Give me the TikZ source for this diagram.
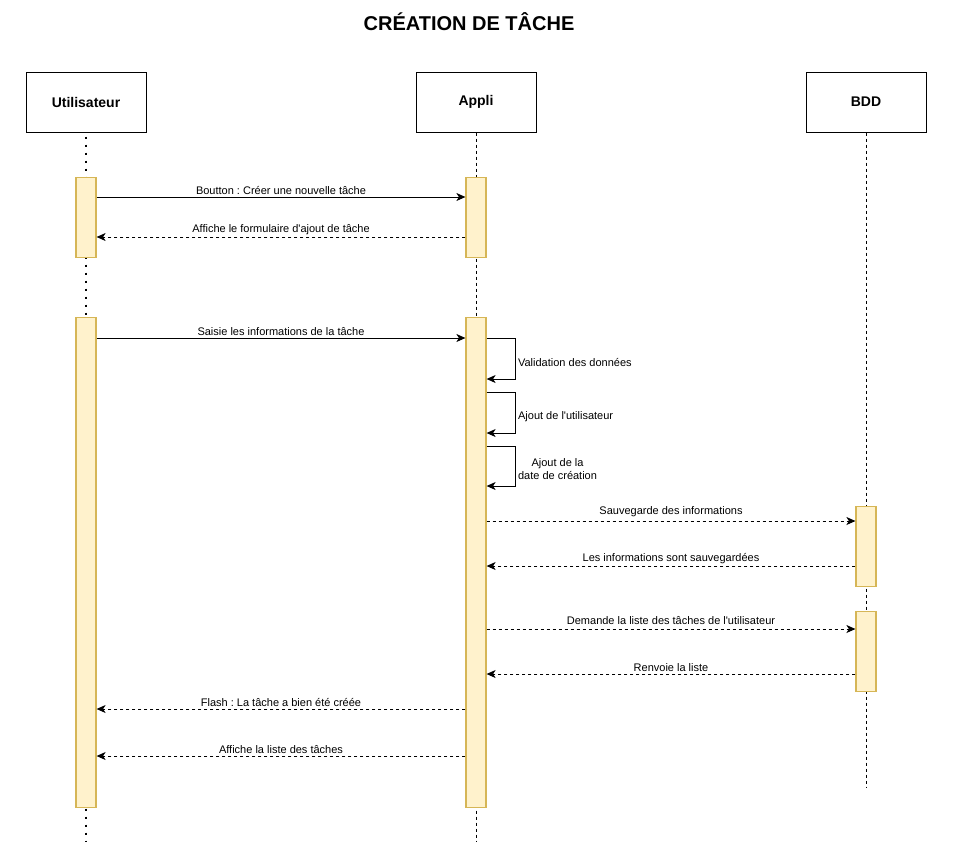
\documentclass[tikz,border=0pt]{standalone}
\usepackage{fontspec}
\setmainfont{Liberation Sans}
\usetikzlibrary{arrows.meta}
\definecolor{actfill}{HTML}{FFF2CC}
\definecolor{actdraw}{HTML}{D6B656}
\frenchspacing
\begin{document}
\begin{tikzpicture}[x=1pt,y=-1pt,
  head/.style={draw,line width=1pt,minimum width=120pt,minimum height=60pt,inner sep=0pt,font=\fontsize{14}{16}\selectfont\bfseries},
  act/.style={draw=actdraw,fill=actfill,line width=1.2pt,minimum width=20pt,inner sep=0pt,anchor=north},
  life/.style={line width=1pt,dash pattern=on 3pt off 3pt},
  dotlife/.style={line width=2pt,dash pattern=on 2pt off 6pt,dash phase=-4pt},
  msg/.style={line width=1pt,-{Stealth[length=9pt,width=8pt,inset=2.5pt]}},
  ret/.style={msg,dash pattern=on 3pt off 3pt},
  lbl/.style={font=\fontsize{11}{13}\selectfont,inner sep=2pt}]
\useasboundingbox[fill=white] (0,0) rectangle (955,844);
\node[font=\fontsize{20}{24}\selectfont\bfseries] (title) at (469,22) {CRÉATION DE TÂCHE};
% participants
\node[head] (user) at (86,102) {Utilisateur};
\node[head] (app) at (476,102) {Appli};
\node[head] (bdd) at (866,102) {BDD};
\coordinate (userEnd) at (86,842);
\coordinate (appEnd) at (476,842);
\coordinate (bddEnd) at (866,787);
\draw[dotlife] (user.south) -- (userEnd);
\draw[life] (app.south) -- (appEnd);
\draw[life] (bdd.south) -- (bddEnd);
% activations
\node[act,minimum height=80pt] (u1) at (86,177) {};
\node[act,minimum height=80pt] (a1) at (476,177) {};
\node[act,minimum height=490pt] (u2) at (86,317) {};
\node[act,minimum height=490pt] (a2) at (476,317) {};
\node[act,minimum height=80pt] (b1) at (866,506) {};
\node[act,minimum height=80pt] (b2) at (866,611) {};
% messages
\draw[msg] ([yshift=-20pt]u1.north east) -- node[lbl,above] {Boutton : Créer une nouvelle tâche} ([yshift=-20pt]a1.north west);
\draw[ret] ([yshift=-60pt]a1.north west) -- node[lbl,above] {Affiche le formulaire d\textquotesingle ajout de tâche} ([yshift=-60pt]u1.north east);
\draw[msg] ([yshift=-21pt]u2.north east) -- node[lbl,above] {Saisie les informations de la tâche} ([yshift=-21pt]a2.north west);
% self calls
\draw[msg] ([yshift=-21pt]a2.north east) -- ++(29,0) -- ++(0,41) node[midway,lbl,right,yshift=-4pt] {Validation des données} -- ([yshift=-62pt]a2.north east);
\draw[msg] ([yshift=-75pt]a2.north east) -- ++(29,0) -- ++(0,41) node[midway,lbl,right,yshift=-4pt] {Ajout de l\textquotesingle utilisateur} -- ([yshift=-116pt]a2.north east);
\draw[msg] ([yshift=-129pt]a2.north east) -- ++(29,0) -- ++(0,40) node[midway,lbl,right,align=center,yshift=-3pt] {Ajout de la\\date de création} -- ([yshift=-169pt]a2.north east);
% database
\draw[ret] ([yshift=-204pt]a2.north east) -- node[lbl,above,yshift=2pt] {Sauvegarde des informations} ([yshift=-15pt]b1.north west);
\draw[ret] ([yshift=-60pt]b1.north west) -- node[lbl,above] {Les informations sont sauvegardées} ([yshift=-249pt]a2.north east);
\draw[ret] ([yshift=-312pt]a2.north east) -- node[lbl,above,yshift=2pt] {Demande la liste des tâches de l\textquotesingle utilisateur} ([yshift=-18pt]b2.north west);
\draw[ret] ([yshift=-63pt]b2.north west) -- node[lbl,above] {Renvoie la liste} ([yshift=-357pt]a2.north east);
% replies
\draw[ret] ([yshift=-392pt]a2.north west) -- node[lbl,above] {Flash : La tâche a bien été créée} ([yshift=-392pt]u2.north east);
\draw[ret] ([yshift=-439pt]a2.north west) -- node[lbl,above] {Affiche la liste des tâches} ([yshift=-439pt]u2.north east);
\end{tikzpicture}
\end{document}
